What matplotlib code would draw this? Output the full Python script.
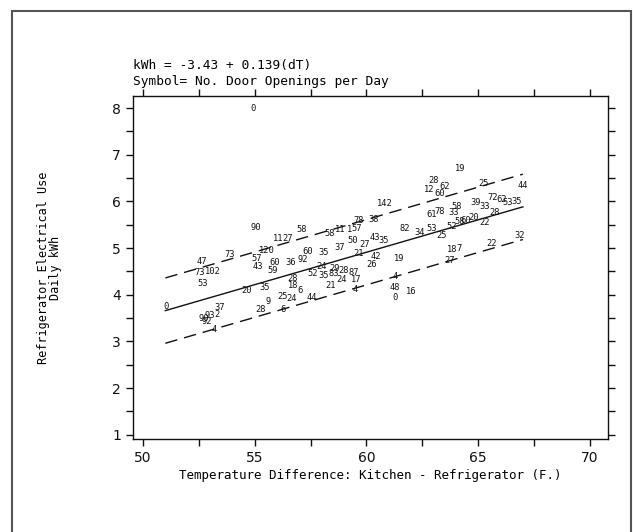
import matplotlib
matplotlib.use("Agg")
import matplotlib.pyplot as plt
from matplotlib.patches import Rectangle
import numpy as np

# temperature difference (F), daily kWh, and the door-opening count used as the plot symbol
temp_diff = [54.92, 51.03, 52.63, 53.89, 55.53, 52.55, 53.13, 52.68, 55.09, 55.15,
             55.91, 55.80, 56.61, 54.65, 55.46, 56.70, 56.72, 56.25, 56.65, 57.55,
             57.02, 56.28, 55.58, 55.27, 52.72, 52.98, 52.85, 53.45, 53.30, 53.18,
             60.83, 59.63, 60.30, 57.10, 58.34, 58.81, 59.25, 59.55, 56.05, 56.45,
             59.38, 58.81, 58.07, 57.35, 57.17, 60.38, 60.78, 59.93, 59.66, 60.42,
             60.23, 61.72, 61.47, 62.37, 62.92, 63.36, 62.92, 63.29, 57.99, 57.59,
             58.07, 58.59, 58.52, 58.96, 59.44, 58.89, 59.53, 59.49, 58.39, 61.28,
             61.28, 61.28, 62.02, 64.18, 62.99, 62.81, 63.51, 63.26, 65.23, 67.02,
             64.03, 63.91, 64.90, 65.30, 65.67, 66.05, 66.30, 66.70, 63.81, 64.15,
             64.45, 64.81, 65.30, 65.75, 63.85, 64.15, 63.71, 65.60, 66.87, 55.05]
daily_kwh = [8.00, 3.75, 4.71, 4.87, 4.94, 4.47, 4.49, 4.23, 4.77, 4.60,
             4.70, 4.52, 4.68, 4.08, 4.15, 4.34, 4.20, 3.96, 3.91, 3.95,
             4.10, 3.68, 3.85, 3.69, 3.50, 3.56, 3.43, 3.72, 3.57, 3.26,
             5.96, 5.59, 5.62, 5.39, 5.32, 5.40, 5.40, 5.42, 5.21, 5.21,
             5.17, 5.01, 4.90, 4.92, 4.76, 5.23, 5.16, 5.07, 4.89, 4.82,
             4.64, 5.41, 4.78, 5.34, 5.42, 5.26, 5.71, 5.78, 4.60, 4.46,
             4.42, 4.57, 4.45, 4.52, 4.47, 4.32, 4.32, 4.12, 4.19, 4.39,
             4.16, 3.94, 4.07, 6.71, 6.44, 6.26, 6.32, 6.17, 6.39, 6.33,
             5.90, 5.76, 5.97, 5.90, 6.09, 6.05, 5.98, 6.00, 5.47, 5.57,
             5.59, 5.66, 5.54, 5.76, 4.97, 4.99, 4.74, 5.10, 5.26, 5.43]
door_open = ["0", "0", "47", "73", "120", "73", "102", "53", "57", "43",
             "60", "59", "36", "20", "35", "28", "18", "25", "24", "44",
             "6", "6", "9", "28", "90", "93", "92", "37", "2", "4",
             "142", "78", "38", "58", "58", "11", "1", "57", "11", "27",
             "50", "37", "35", "60", "92", "43", "35", "27", "21", "42",
             "26", "82", "19", "34", "53", "25", "61", "78", "24", "52",
             "35", "29", "83", "28", "87", "24", "17", "4", "21", "4",
             "48", "0", "16", "19", "28", "12", "62", "60", "25", "44",
             "58", "33", "39", "33", "72", "62", "53", "35", "52", "58",
             "60", "20", "22", "28", "18", "7", "27", "22", "32", "90"]

# fitted line kWh = -3.43 + 0.139(dT) and its prediction band
intercept = -3.43
slope = 0.139
band = 0.70
fit_range = [51.0, 67.0]

mono = "DejaVu Sans Mono"

fig = plt.figure(figsize=(6.33, 5.32), dpi=100)
ax = fig.add_axes([0.210, 0.175, 0.7505, 0.6447])

for x, y, s in zip(temp_diff, daily_kwh, door_open):
    ax.text(x, y, s, ha="center", va="center", fontsize=6.3,
            family=mono, color="#111111")

xs = np.array(fit_range)
yfit = intercept + slope * xs
ax.plot(xs, yfit, color="#111111", linewidth=1.0)
ax.plot(xs, yfit + band, color="#111111", linewidth=1.0, dashes=(9, 5))
ax.plot(xs, yfit - band, color="#111111", linewidth=1.0, dashes=(9, 5))

ax.set_xlim(49.55, 70.81)
ax.set_ylim(0.91, 8.26)
ax.set_xticks([50, 55, 60, 65, 70])
ax.set_xticks([52.5, 57.5, 62.5, 67.5], minor=True)
ax.set_yticks([1, 2, 3, 4, 5, 6, 7, 8])
ax.set_yticks(np.arange(1.5, 8.0, 1.0), minor=True)
ax.tick_params(which="both", direction="out", length=5, width=1.0,
               top=True, right=True, labelsize=10, colors="#111111")
for sp in ax.spines.values():
    sp.set_linewidth(1.0)
    sp.set_color("#111111")

ax.set_xlabel("Temperature Difference: Kitchen - Refrigerator (F.)",
              family=mono, fontsize=9, labelpad=3)
fig.text(0.068, 0.497, "Refrigerator Electrical Use", rotation=90,
         ha="center", va="center", family=mono, fontsize=8.5)
fig.text(0.088, 0.497, "Daily kWh", rotation=90,
         ha="center", va="center", family=mono, fontsize=8.5)

fig.text(133 / 633, 1 - 65 / 532, "kWh = -3.43 + 0.139(dT)",
         ha="left", va="center", family=mono, fontsize=9.3)
fig.text(133 / 633, 1 - 82 / 532, "Symbol= No. Door Openings per Day",
         ha="left", va="center", family=mono, fontsize=9.3)

# outer frame of the page
fig.patches.append(Rectangle((12 / 633, -0.01), 619 / 633, 1 - 11 / 532 + 0.01,
                             transform=fig.transFigure, fill=False,
                             edgecolor="#555555", linewidth=1.5))

fig.savefig("out.png", dpi=100)
